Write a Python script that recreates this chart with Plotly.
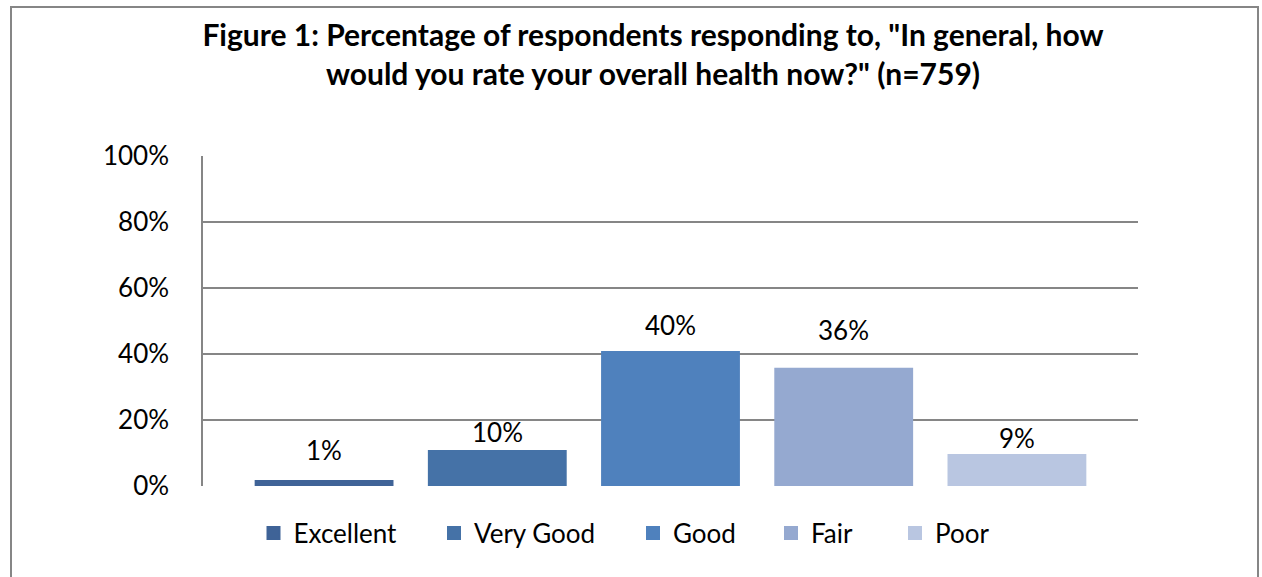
import plotly.graph_objects as go

categories = ["Excellent", "Very Good", "Good", "Fair", "Poor"]
values = [1.5, 10.6, 40.6, 35.5, 9.4]
labels = ["1%", "10%", "40%", "36%", "9%"]
colors = ["#3F6397", "#4572A7", "#4F81BD", "#95A9D0", "#B9C6E1"]
label_shift = [19, 7, 15, 27, 5]          # pixel lift of each data label above its bar
legend_centers = [275.5, 456, 655, 793, 917]  # pixel x of each legend square centre

W, H = 1262, 577
L, R, T, B = 203, 1138, 156, 486
pw, ph = R - L, B - T

FONT = "Lato, Carlito, Calibri, sans-serif"

fig = go.Figure()
for i, (c, v, col) in enumerate(zip(categories, values, colors)):
    fig.add_trace(go.Bar(
        x=[c], y=[v], name=c,
        marker=dict(color=col, line=dict(color=col, width=2)),
        width=0.79,
        legend="legend" if i == 0 else f"legend{i+1}",
        hoverinfo="skip",
    ))

for c, v, t, s in zip(categories, values, labels, label_shift):
    fig.add_annotation(x=c, y=v, text=t, showarrow=False, yanchor="bottom",
                       yshift=s - 6, font=dict(family=FONT, size=26, color="#000000"))

leg_y = (B - 533) / ph
legends = {}
for i, cx in enumerate(legend_centers):
    key = "legend" if i == 0 else f"legend{i+1}"
    legends[key] = dict(
        x=(cx - 22 - L) / pw, xanchor="left", y=leg_y, yanchor="middle",
        orientation="h", bgcolor="rgba(0,0,0,0)",
        font=dict(family=FONT, size=26, color="#000000"),
    )

fig.update_layout(
    width=W, height=H,
    margin=dict(l=L, r=W - R, t=T, b=H - B, pad=0),
    paper_bgcolor="white", plot_bgcolor="white",
    barmode="overlay",
    showlegend=True,
    title=dict(
        text='Figure 1: Percentage of respondents responding to, "In general, how<br>would you rate your overall health now?" (n=759)',
        x=653 / W, xref="container", xanchor="center",
        y=1 - 46 / H, yref="container", yanchor="top",
        font=dict(family=FONT, size=30, color="#000000", weight="bold"),
    ),
    xaxis=dict(range=[-0.699, 4.699], showticklabels=False, showgrid=False,
               zeroline=False, showline=False, ticks="", fixedrange=True),
    yaxis=dict(range=[0, 100], dtick=20, ticksuffix="%", showgrid=True,
               gridcolor="#868686", gridwidth=1.5, zeroline=False,
               showline=True, linecolor="#868686", linewidth=1.5,
               ticks="", ticklabelstandoff=27,
               tickfont=dict(family=FONT, size=26, color="#000000")),
    shapes=[dict(type="rect", xref="paper", yref="paper",
                 x0=(11 - L) / pw, x1=(1258 - L) / pw,
                 y0=(B - 590) / ph, y1=(B - 7) / ph,
                 line=dict(color="#868686", width=2), fillcolor="rgba(0,0,0,0)",
                 layer="below")],
    **legends,
)

fig.write_html("out.html", config={"displayModeBar": False},
               post_script="document.body.style.margin='0';")
